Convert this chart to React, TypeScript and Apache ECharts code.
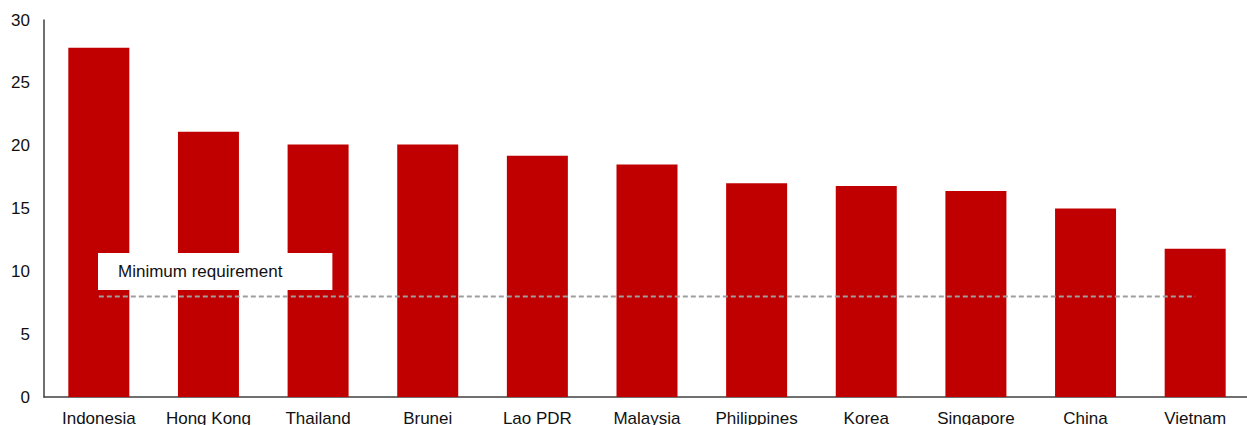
import React, { useEffect, useRef } from "react";
import * as echarts from "echarts";

const categories = ["Indonesia", "Hong Kong", "Thailand", "Brunei", "Lao PDR", "Malaysia", "Philippines", "Korea", "Singapore", "China", "Vietnam"];
const values = [27.8, 21.1, 20.1, 20.1, 19.2, 18.5, 17.0, 16.8, 16.4, 15.0, 11.8];
const minimumRequirement = [8, 8, 8, 8, 8, 8, 8, 8, 8, 8, 8];
const yTicks = { min: 0, max: 30, interval: 5 };

const FONT = "'Liberation Sans', Arial, sans-serif";

export default function App() {
  const ref = useRef<HTMLDivElement>(null);
  useEffect(() => {
    if (!ref.current) return;
    const chart = echarts.init(ref.current, null, { renderer: "svg" });
    chart.setOption({
      animation: false,
      backgroundColor: "#ffffff",
      textStyle: { fontFamily: FONT },
      grid: { left: 44, top: 20, bottom: 28, width: 1206, containLabel: false, outerBoundsMode: "none" },
      legend: {
        data: [{ name: "Minimum requirement" }],
        left: 98,
        top: 253,
        orient: "horizontal",
        backgroundColor: "#ffffff",
        padding: [10, 50, 10, 0],
        itemWidth: 15,
        itemHeight: 14,
        itemGap: 5,
        icon: "rect",
        itemStyle: { opacity: 0 },
        lineStyle: { opacity: 0 },
        textStyle: { fontSize: 17, color: "#111111", fontFamily: FONT },
        selectedMode: false,
      },
      xAxis: {
        type: "category",
        data: categories,
        axisLine: { show: true, lineStyle: { color: "#404040", width: 1.5 } },
        axisTick: { show: false },
        axisLabel: { interval: 0, fontSize: 17, color: "#111111", margin: 13, fontFamily: FONT },
      },
      yAxis: {
        type: "value",
        min: yTicks.min,
        max: yTicks.max,
        interval: yTicks.interval,
        axisLine: { show: true, lineStyle: { color: "#404040", width: 1.5 } },
        axisTick: { show: false },
        splitLine: { show: false },
        axisLabel: { fontSize: 17, color: "#111111", margin: 14, fontFamily: FONT },
      },
      series: [
        {
          name: "Value",
          type: "bar",
          data: values,
          barWidth: 61,
          itemStyle: { color: "#C00000" },
        },
        {
          name: "Minimum requirement",
          type: "line",
          data: minimumRequirement,
          symbol: "none",
          z: 5,
          lineStyle: { color: "#9E9E9E", width: 2, type: [5, 3] },
        },
      ],
    });
    return () => chart.dispose();
  }, []);
  return <div ref={ref} style={{ position: "fixed", left: 0, top: 0, width: 1247, height: 425 }} />;
}
